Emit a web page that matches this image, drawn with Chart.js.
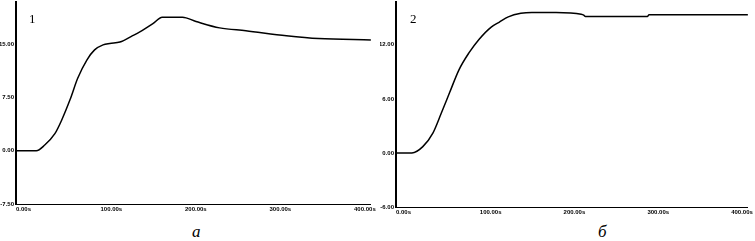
<!DOCTYPE html>
<html>
<head>
<meta charset="utf-8">
<script src="https://cdn.jsdelivr.net/npm/chart.js@4/dist/chart.umd.min.js"></script>
<style>
  html, body { margin:0; padding:0; background:#fff; width:755px; height:241px; overflow:hidden; }
  .box { position:absolute; }
  .num { position:absolute; font-family:"Liberation Serif", serif; font-size:13px; color:#000; }
  .cap { position:absolute; font-family:"Liberation Serif", serif; font-style:italic; font-size:17px; color:#000; }
</style>
</head>
<body>
<div class="box" style="left:0;top:-4px;width:378px;height:219px;"><canvas id="ca" width="378" height="219"></canvas></div>
<div class="box" style="left:380px;top:-4px;width:375px;height:222px;"><canvas id="cb" width="375" height="222"></canvas></div>
<div class="num" style="left:29px;top:11px;">1</div>
<div class="num" style="left:410px;top:11px;">2</div>
<div class="cap" style="left:192px;top:222px;">а</div>
<div class="cap" style="left:598px;top:222px;">б</div>
<script>
// ---- data (time in s, value) ----
const timesA  = [0, 24, 34, 46, 54, 64, 73, 84, 93, 103, 111, 123, 138, 146, 162, 173, 197, 213, 241, 272, 320, 358, 420];
const valuesA = [0, 0, 0.8, 2.4, 4.3, 7.2, 10.2, 12.8, 14.2, 14.9, 15.1, 15.3, 16.2, 16.7, 17.9, 18.8, 18.8, 18.2, 17.3, 16.9, 16.2, 15.8, 15.6];
const timesB  = [0, 19, 32, 44, 54, 64, 75, 87, 99, 114, 123, 134, 149, 162, 191, 221, 224, 226, 300, 302, 420];
const valuesB = [0, 0, 0.7, 2.2, 4.4, 6.7, 9.2, 11.1, 12.6, 14.0, 14.5, 15.1, 15.5, 15.6, 15.6, 15.4, 15.3, 15.15, 15.15, 15.35, 15.35];
const xTicks      = [0, 100, 200, 300, 400];
const xTickLabels = ['0.00s', '100.00s', '200.00s', '300.00s', '400.00s'];
const yTicksA      = [-7.5, 0, 7.5, 15];
const yTickLabelsA = ['-7.50', '0.00', '7.50', '15.00'];
const yTicksB      = [-6, 0, 6, 12];
const yTickLabelsB = ['-6.00', '0.00', '6.00', '12.00'];

function makeChart(id, times, values, yTicks, yLabels, yMin, yMax, padRight) {
  const pts = times.map((t, i) => ({x: t, y: values[i]}));
  const tickFont = {family: 'Liberation Sans', size: 6, weight: 'bold'};
  return new Chart(document.getElementById(id), {
    type: 'line',
    data: { datasets: [{ data: pts, borderColor: '#000', borderWidth: 1.5, pointRadius: 0,
                         cubicInterpolationMode: 'monotone', fill: false }] },
    options: {
      responsive: false, animation: false,
      layout: { padding: { top: 0, right: padRight, bottom: 0, left: 0 } },
      plugins: { legend: { display: false }, tooltip: { enabled: false } },
      scales: {
        x: {
          type: 'linear', min: 0, max: 420,
          grid: { display: false, drawTicks: false },
          border: { display: true, color: '#000', width: 1 },
          afterBuildTicks: s => { s.ticks = xTicks.map(v => ({value: v})); },
          afterFit: s => { s.height = 11; },
          ticks: { color: '#000', font: tickFont, padding: 2, align: 'start', maxRotation: 0, autoSkip: false,
                   callback: (v) => xTickLabels[xTicks.indexOf(v)] }
        },
        y: {
          type: 'linear', min: yMin, max: yMax,
          grid: { display: false, drawTicks: false },
          border: { display: true, color: '#000', width: 2 },
          afterBuildTicks: s => { s.ticks = yTicks.map(v => ({value: v})); },
          afterFit: s => { s.width = 16; },
          ticks: { color: '#000', font: tickFont, padding: 2, autoSkip: false,
                   callback: (v) => yLabels[yTicks.indexOf(v)] }
        }
      }
    }
  });
}
makeChart('ca', timesA, valuesA, yTicksA, yTickLabelsA, -7.5, 21, 6);
makeChart('cb', timesB, valuesB, yTicksB, yTickLabelsB, -6, 16.8, 3);
</script>
</body>
</html>
